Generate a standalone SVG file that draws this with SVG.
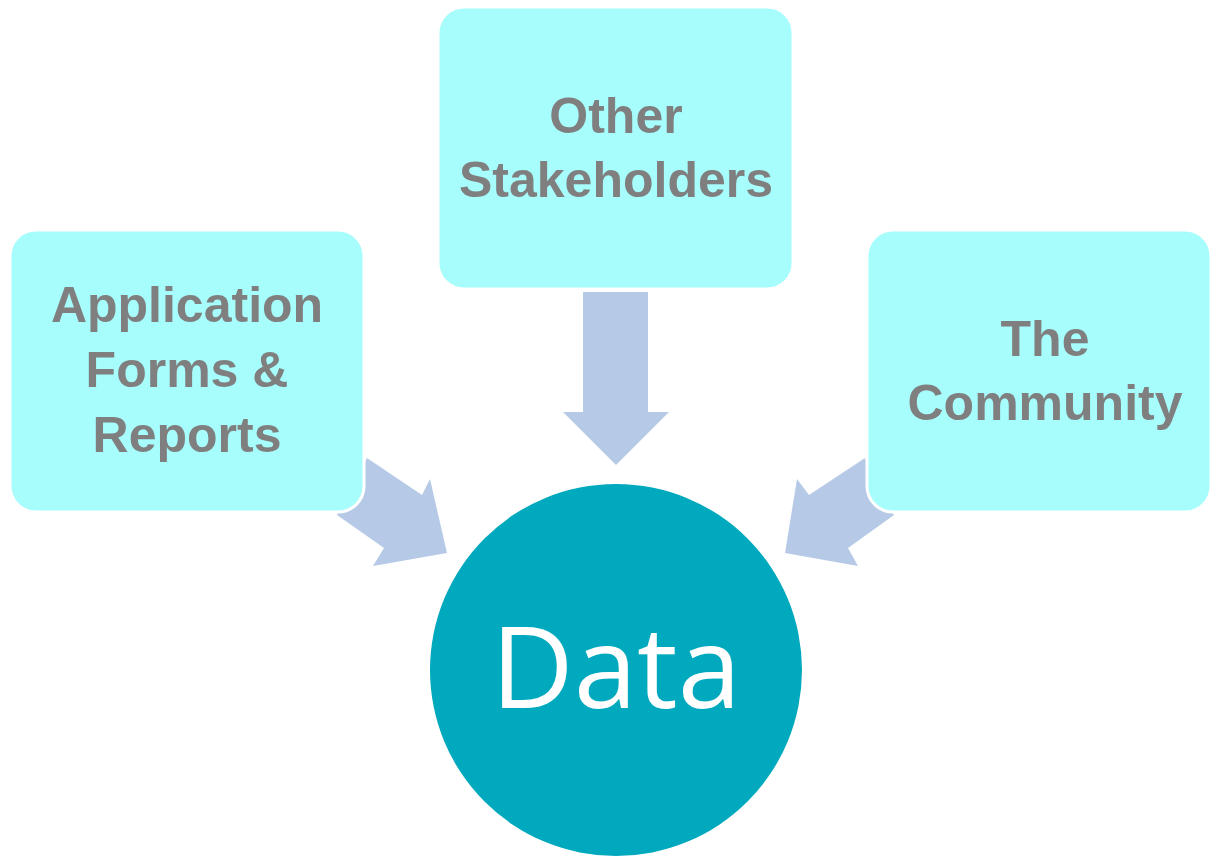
<svg xmlns="http://www.w3.org/2000/svg" width="1210" height="857" viewBox="0 0 1210 857">
<style>
.box{fill:#A7FCFC;stroke:#FFFFFF;stroke-width:3}
.lbl{font-family:"Liberation Sans",Arial,sans-serif;font-weight:bold;font-size:50px;fill:#7F7F7F;text-anchor:middle}
.arr{fill:#B6CAE7}
</style>
<rect width="1210" height="857" fill="#FFFFFF"/>
<g id="connectors">
<polygon class="arr" points="583,292 648,292 648,412 669,412 616,465 563,412 583,412"/>
<polygon class="arr" points="367,458 422,495 430,479 447,553 373,566 384,548 337,515"/>
<polygon class="arr" points="865,458 809,495 797,479 785,553 858,566 848,548 894,515"/>
</g>
<g id="node-forms">
<rect class="box" x="10" y="230" width="354" height="282" rx="26"/>
<text class="lbl" x="187" y="322">Application</text>
<text class="lbl" x="187" y="387">Forms &amp;</text>
<text class="lbl" x="187" y="452">Reports</text>
</g>
<g id="node-stakeholders">
<rect class="box" x="438" y="7" width="355" height="282" rx="26"/>
<text class="lbl" x="616" y="133">Other</text>
<text class="lbl" x="616" y="197">Stakeholders</text>
</g>
<g id="node-community">
<rect class="box" x="867" y="230" width="344" height="282" rx="26"/>
<text class="lbl" x="1045" y="356">The</text>
<text class="lbl" x="1045" y="420">Community</text>
</g>
<g id="node-data">
<circle cx="616" cy="670" r="186" fill="#00A9BD"/>
<text x="616" y="708" font-family="'Open Sans','Liberation Sans',sans-serif" font-size="114" fill="#FFFFFF" text-anchor="middle">Data</text>
</g>
</svg>
